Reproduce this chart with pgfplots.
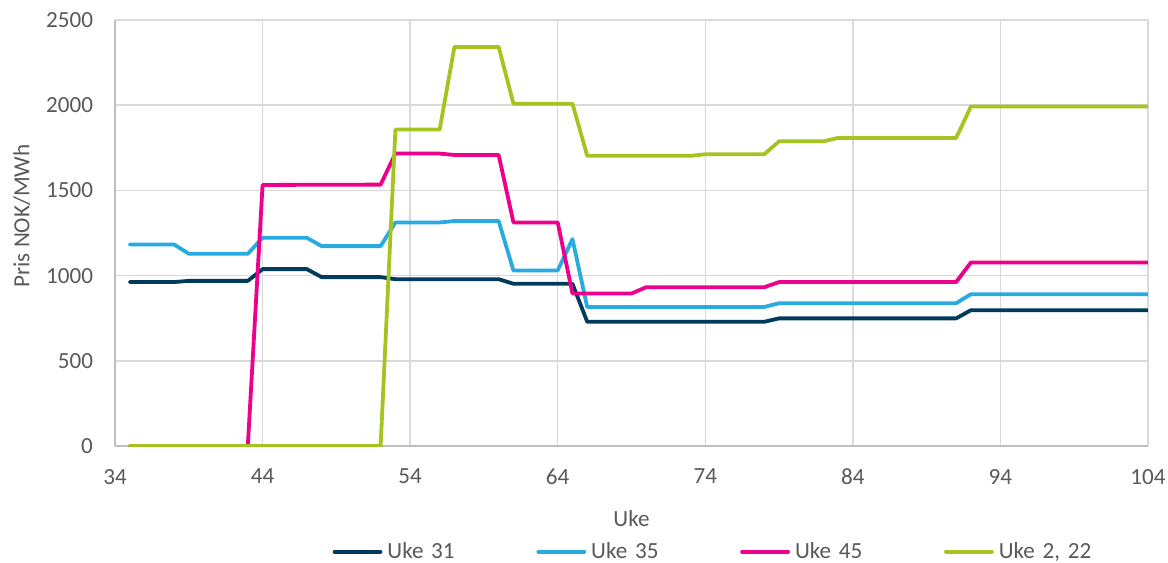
\documentclass[border=0pt]{standalone}
\usepackage{fontspec}
\setmainfont{Carlito}
\usepackage{pgfplots}
\pgfplotsset{compat=1.18}

\definecolor{uke31}{RGB}{0,59,92}
\definecolor{uke35}{RGB}{41,171,226}
\definecolor{uke45}{RGB}{236,0,140}
\definecolor{uke2}{RGB}{166,196,33}
\definecolor{txt}{RGB}{89,89,89}
\definecolor{gridc}{RGB}{217,217,217}
\definecolor{axisc}{RGB}{191,191,191}

\begin{document}
\begin{tikzpicture}
\begin{axis}[
    scale only axis,
    width=516.5bp, height=213bp,
    xmin=34, xmax=104, ymin=0, ymax=2500,
    xtick={34,44,...,104},
    ytick={0,500,...,2500},
    axis lines=left,
    axis line style={-, draw=axisc, line width=0.75bp},
    grid=major,
    major grid style={draw=gridc, line width=0.75bp},
    major tick length=0pt,
    font=\fontsize{11.6}{14}\selectfont,
    /pgf/number format/assume math mode=true,
    /pgf/number format/1000 sep={},
    tick label style={text=txt},
    xticklabel style={yshift=-8bp},
    yticklabel style={xshift=-7.5bp},
    xlabel={Uke},
    ylabel={Pris NOK/MWh},
    label style={text=txt},
    xlabel style={at={(axis description cs:0.5,-0.1878)}, anchor=base},
    ylabel style={at={(axis description cs:-0.083,0.54)}, anchor=base, rotate=0},
    legend columns=4,
    legend style={draw=none, fill=none, at={(0.2045,-0.248)}, anchor=west,
        font=\fontsize{11.6}{14}\selectfont, text=txt,
        /tikz/every odd column/.append style={column sep=2.5bp},
        nodes={inner sep=0pt}},
    legend cell align=left,
    legend image code/.code={\draw[#1] (0bp,0bp) -- (23bp,0bp);},
    every axis plot/.append style={line width=1.9bp, line join=round, line cap=round},
]
\addplot[uke31] coordinates {
    (35,962) (38,962) (39,969) (43,969) (44,1038) (47,1038) (48,991) (52,991)
    (53,979) (60,979) (61,952) (65,952) (66,729) (78,729) (79,749) (91,749)
    (92,797) (104,797)
};
\addlegendentry[text width=74.5bp]{Uke 31}
\addplot[uke35] coordinates {
    (35,1183) (38,1183) (39,1128) (43,1128) (44,1222) (47,1222) (48,1173) (52,1173)
    (53,1312) (56,1312) (57,1320) (60,1320) (61,1030) (64,1030) (65,1214) (66,816)
    (78,816) (79,838) (91,838) (92,891) (104,891)
};
\addlegendentry[text width=74.5bp]{Uke 35}
\addplot[uke45] coordinates {
    (35,0) (43,0) (44,1532) (52,1534) (53,1716) (56,1716) (57,1708) (60,1708)
    (61,1312) (64,1312) (65,895) (69,895) (70,932) (78,932) (79,962) (91,962)
    (92,1077) (104,1077)
};
\addlegendentry[text width=74.5bp]{Uke 45}
\addplot[uke2] coordinates {
    (35,0) (52,0) (53,1857) (56,1857) (57,2342) (60,2342) (61,2009) (65,2009)
    (66,1703) (73,1703) (74,1712) (78,1712) (79,1788) (82,1788) (83,1808) (91,1808)
    (92,1992) (104,1992)
};
\addlegendentry[text width=60bp]{Uke 2, 22}
\end{axis}
\pgfresetboundingbox
\path[use as bounding box] (current axis.south west) ++(-57.5bp,-58.5bp) rectangle ++(584bp,281.5bp);
\end{tikzpicture}
\end{document}
